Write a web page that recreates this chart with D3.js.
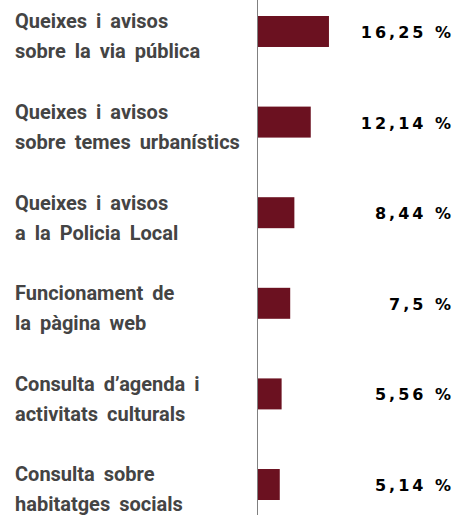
<!DOCTYPE html>
<html>
<meta charset="utf-8">
<style>
body { margin: 0; background: #fff; }

.cat text {
  font-family: Roboto, sans-serif;
  font-weight: 700;
  font-size: 20px;
  fill: #444;
  word-spacing: 4px;
}

.val {
  font-family: "DejaVu Sans", Verdana, sans-serif;
  font-weight: 700;
  font-size: 16px;
  fill: #000;
  letter-spacing: 3px;
}

.bar { fill: #6b1120; }

.axis-line {
  stroke: #808080;
  stroke-width: 1;
  shape-rendering: crispEdges;
}
</style>
<body>
<div id="chart"></div>

<script src="https://d3js.org/d3.v7.min.js"></script>
<script>

var categories = [
  ["Queixes i avisos", "sobre la via pública"],
  ["Queixes i avisos", "sobre temes urbanístics"],
  ["Queixes i avisos", "a la Policia Local"],
  ["Funcionament de", "la pàgina web"],
  ["Consulta d’agenda i", "activitats culturals"],
  ["Consulta sobre", "habitatges socials"]
];
var values = [16.25, 12.14, 8.44, 7.5, 5.56, 5.14];

var width = 468,
    height = 515,
    axisX = 257;

var svg = d3.select("#chart").append("svg")
    .attr("width", width)
    .attr("height", height);

var y = d3.scaleBand()
    .domain(d3.range(values.length))
    .range([16, 500])
    .paddingInner(0.658)
    .paddingOuter(0);

var x = d3.scaleLinear()
    .domain([0, 18])
    .range([axisX, axisX + 79.7]);

svg.selectAll("rect.bar")
    .data(values)
  .enter().append("rect")
    .attr("class", "bar")
    .attr("x", x(0))
    .attr("y", function(d, i) { return y(i); })
    .attr("width", function(d) { return x(d) - x(0); })
    .attr("height", y.bandwidth());

svg.append("line")
    .attr("class", "axis-line")
    .attr("x1", axisX + 0.5)
    .attr("x2", axisX + 0.5)
    .attr("y1", 0)
    .attr("y2", height);

// category labels, two lines each
var cat = svg.selectAll("g.cat")
    .data(categories)
  .enter().append("g")
    .attr("class", "cat")
    .attr("transform", function(d, i) { return "translate(15," + y(i) + ")"; });

cat.selectAll("text")
    .data(function(d) { return d; })
  .enter().append("text")
    .attr("x", 0)
    .attr("y", function(d, j) { return 12.3 + j * 30; })
    .text(function(d) { return d; });

svg.selectAll("text.val")
    .data(values)
  .enter().append("text")
    .attr("class", "val")
    .attr("x", 454)
    .attr("y", function(d, i) { return y(i) + y.bandwidth() / 2 + 6.5; })
    .attr("text-anchor", "end")
    .text(function(d) { return String(d).replace(".", ",") + " %"; });

</script>
</body>
</html>
